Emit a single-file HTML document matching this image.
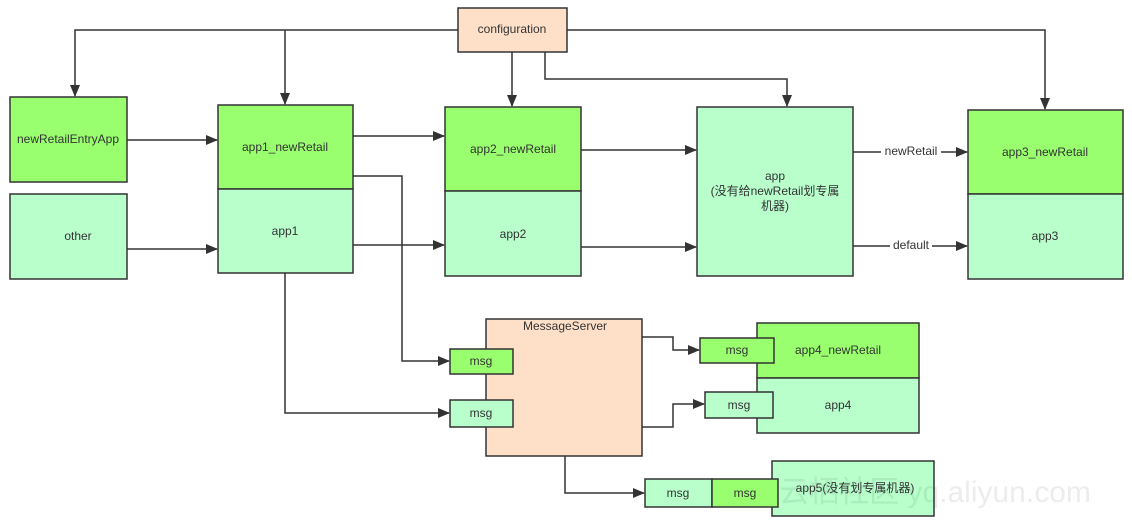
<!DOCTYPE html>
<html><head><meta charset="utf-8"><style>
html,body{margin:0;padding:0;background:#fff;width:1132px;height:525px;overflow:hidden}
svg{display:block}
text{font-family:"Liberation Sans","Noto Sans CJK SC",sans-serif;font-size:12px;fill:#333;text-anchor:middle;dominant-baseline:middle}
</style></head><body>
<svg width="1132" height="525" viewBox="0 0 1132 525">
<defs><marker id="a" markerWidth="12" markerHeight="10" refX="11" refY="5" orient="auto" markerUnits="userSpaceOnUse"><path d="M0,0 L12,5 L0,10z" fill="#333"/></marker></defs>
<g fill="none" stroke="#333" stroke-width="1.5">
<path d="M458,30 H75 V96" marker-end="url(#a)"/>
<path d="M285,30 V104" marker-end="url(#a)"/>
<path d="M567,30 H1045 V109" marker-end="url(#a)"/>
<path d="M512,52 V106" marker-end="url(#a)"/>
<path d="M545,52 V79 H787 V106" marker-end="url(#a)"/>
<path d="M127,140 H217" marker-end="url(#a)"/>
<path d="M127,249 H217" marker-end="url(#a)"/>
<path d="M353,136 H444" marker-end="url(#a)"/>
<path d="M353,245 H444" marker-end="url(#a)"/>
<path d="M353,176 H402 V361 H449" marker-end="url(#a)"/>
<path d="M285,273 V413 H449" marker-end="url(#a)"/>
<path d="M581,150 H696" marker-end="url(#a)"/>
<path d="M581,247 H696" marker-end="url(#a)"/>
<path d="M853,152 H967" marker-end="url(#a)"/>
<path d="M853,246 H967" marker-end="url(#a)"/>
<path d="M642,337 H673 V350 H699" marker-end="url(#a)"/>
<path d="M642,427 H673 V404 H704" marker-end="url(#a)"/>
<path d="M565,456 V493 H644" marker-end="url(#a)"/>
</g>
<rect x="881" y="145" width="60" height="14" fill="#fff"/>
<text x="911" y="152">newRetail</text>
<rect x="890" y="239" width="42" height="14" fill="#fff"/>
<text x="911" y="246">default</text>
<g stroke="#333" stroke-width="1.5">
<rect x="458" y="8" width="109" height="44" fill="#fee0c8"/>
<rect x="10" y="97" width="117" height="85" fill="#99ff6e"/>
<rect x="10" y="194" width="117" height="85" fill="#b8ffcc"/>
<rect x="218" y="105" width="135" height="84" fill="#99ff6e"/>
<rect x="218" y="189" width="135" height="84" fill="#b8ffcc"/>
<rect x="445" y="107" width="136" height="84" fill="#99ff6e"/>
<rect x="445" y="191" width="136" height="85" fill="#b8ffcc"/>
<rect x="697" y="107" width="156" height="169" fill="#b8ffcc"/>
<rect x="968" y="110" width="155" height="84" fill="#99ff6e"/>
<rect x="968" y="194" width="155" height="85" fill="#b8ffcc"/>
<rect x="486" y="319" width="156" height="137" fill="#fee0c8"/>
<rect x="450" y="349" width="63" height="25" fill="#99ff6e"/>
<rect x="450" y="400" width="63" height="27" fill="#b8ffcc"/>
<rect x="757" y="323" width="162" height="55" fill="#99ff6e"/>
<rect x="757" y="378" width="162" height="55" fill="#b8ffcc"/>
<rect x="700" y="338" width="74" height="25" fill="#99ff6e"/>
<rect x="705" y="392" width="68" height="26" fill="#b8ffcc"/>
<rect x="772" y="461" width="162" height="55" fill="#b8ffcc"/>
<rect x="645" y="479" width="67" height="28" fill="#b8ffcc"/>
<rect x="712" y="479" width="66" height="28" fill="#99ff6e"/>
</g>
<text x="512" y="30">configuration</text>
<text x="68" y="140">newRetailEntryApp</text>
<text x="78" y="237">other</text>
<text x="285" y="148">app1_newRetail</text>
<text x="285" y="232">app1</text>
<text x="513" y="150">app2_newRetail</text>
<text x="513" y="235">app2</text>
<text x="775" y="177">app</text>
<text x="775" y="192">(没有给newRetail划专属</text>
<text x="775" y="207">机器)</text>
<text x="1045" y="153">app3_newRetail</text>
<text x="1045" y="237">app3</text>
<text x="565" y="327">MessageServer</text>
<text x="481" y="362">msg</text>
<text x="481" y="414">msg</text>
<text x="737" y="351">msg</text>
<text x="739" y="406">msg</text>
<text x="838" y="351">app4_newRetail</text>
<text x="838" y="406">app4</text>
<text x="678" y="494">msg</text>
<text x="745" y="494">msg</text>
<text x="855" y="489">app5(没有划专属机器)</text>
<text x="935" y="494" style="font-size:30px;fill:#000;opacity:0.07">云栖社区 yq.aliyun.com</text>
</svg>
</body></html>
